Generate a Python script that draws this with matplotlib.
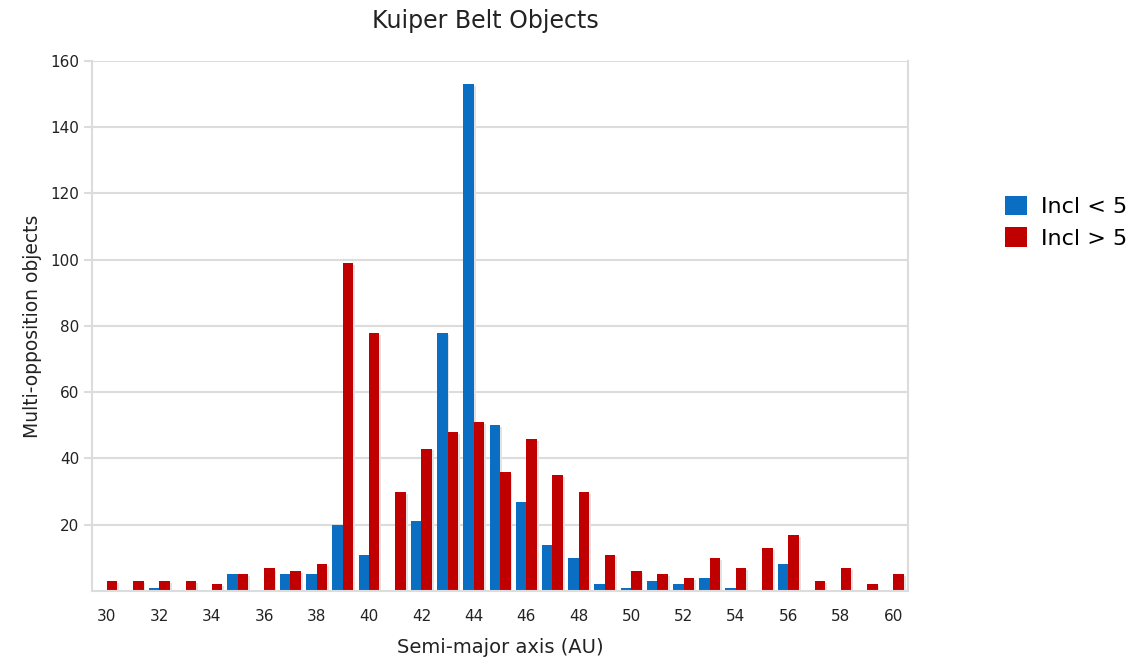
import numpy as np
import matplotlib.pyplot as plt

# Данные: большая полуось (а.е.) и число объектов
axis_au = list(range(30, 61))
incl_low = [0, 0, 1, 0, 0, 5, 0, 5, 5, 20, 11, 0, 21, 78, 153, 50, 27, 14, 10, 2,
            1, 3, 2, 4, 1, 0, 8, 0, 0, 0, 0]
incl_high = [3, 3, 3, 3, 2, 5, 7, 6, 8, 99, 78, 30, 43, 48, 51, 36, 46, 35, 30, 11,
             6, 5, 4, 10, 7, 13, 17, 3, 7, 2, 5]
legend_labels = ['Incl < 5', 'Incl > 5']

blue = '#0a6fc2'
red = '#c00000'
w = 0.4

fig = plt.figure(figsize=(11.48, 6.70), dpi=100)
ax = fig.add_axes([0.0801, 0.118, 0.711, 0.791])

x = np.array(axis_au)
# лёгкая тень под столбиками
ax.bar(x - w / 2 + 0.07, incl_low, w, bottom=-0.6, color='#e2e2e2', zorder=1)
ax.bar(x + w / 2 + 0.07, incl_high, w, bottom=-0.6, color='#e2e2e2', zorder=1)
ax.bar(x - w / 2, incl_low, w, color=blue, label=legend_labels[0], zorder=2)
ax.bar(x + w / 2, incl_high, w, color=red, label=legend_labels[1], zorder=2)

ax.set_xlim(29.43, 60.57)
ax.set_ylim(0, 160)
ax.set_xticks(range(30, 61, 2))
ax.set_yticks(range(20, 161, 20))
ax.yaxis.grid(True, color='#dcdcdc', lw=1.5, zorder=0)
ax.set_axisbelow(True)

ax.spines['top'].set_visible(False)
for s in ['left', 'right', 'bottom']:
    ax.spines[s].set_color('#dcdcdc')
    ax.spines[s].set_linewidth(1.5)

ax.tick_params(axis='x', length=0, pad=13, labelsize=11, colors='#222222')
ax.tick_params(axis='y', length=6, width=1.5, color='#dcdcdc', pad=3,
               labelsize=11, labelcolor='#222222')

# заголовок чуть левее центра осей, как в оригинале
fig.text(485 / 1148, 1 - 21 / 670, 'Kuiper Belt Objects', ha='center',
         va='center', fontsize=17, color='#222222')
ax.set_xlabel('Semi-major axis (AU)', fontsize=14, labelpad=10, color='#222222')
ax.set_ylabel('Multi-opposition objects', fontsize=13.5, labelpad=6,
              color='#222222')

ax.legend(loc='center left', bbox_to_anchor=(1.105, 0.696), frameon=False,
          fontsize=16, handlelength=1.0, handleheight=1.0, handletextpad=0.6,
          labelspacing=0.45, borderpad=0)

plt.savefig('out.png', dpi=100)
